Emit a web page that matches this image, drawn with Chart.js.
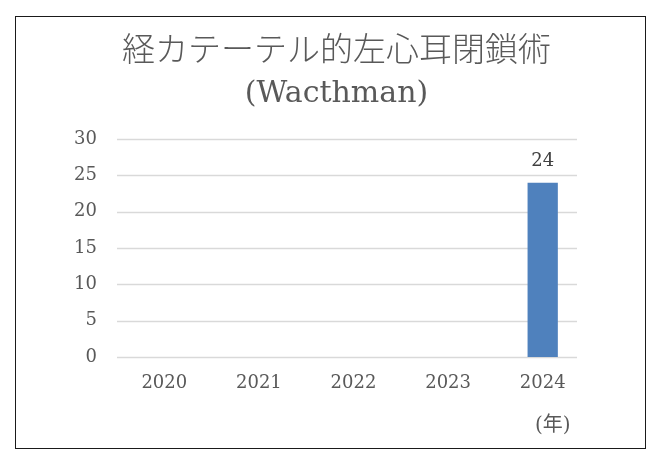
<!DOCTYPE html>
<html lang="ja">
<head>
<meta charset="utf-8">
<script src="https://cdn.jsdelivr.net/npm/chart.js@4"></script>
<style>
    html, body { margin: 0; padding: 0; background: #fff; }
    #frame {
        position: absolute;
        left: 15px;
        top: 16px;
        width: 629px;
        height: 431px;
        border: 1.5px solid #1a1a1a;
    }
</style>
</head>
<body>
<div id="frame"><canvas id="chart"></canvas></div>
<script>
const years = ["2020", "2021", "2022", "2023", "2024"];
const counts = [null, null, null, null, 24];
const yTicks = [0, 5, 10, 15, 20, 25, 30];
const titleMain = "経カテーテル的左心耳閉鎖術";
const titleSub = "(Wacthman)";
const xUnit = "(年)";

const serif = "'DejaVu Serif', 'Liberation Serif', 'Noto Sans CJK JP', serif";
const cjk = "'Noto Sans CJK JP', 'DejaVu Serif', serif";
const textColor = "#595959";

// horizontal grid lines, stopping a bit short of the right edge like the original
const gridPlugin = {
    id: "shortGrid",
    beforeDatasetsDraw(chart) {
        const { ctx, chartArea, scales } = chart;
        ctx.save();
        ctx.strokeStyle = "#d9d9d9";
        ctx.lineWidth = 1.5;
        for (const v of yTicks) {
            const y = Math.round(scales.y.getPixelForValue(v)) + 0.5;
            ctx.beginPath();
            ctx.moveTo(chartArea.left, y);
            ctx.lineTo(chartArea.right - 13, y);
            ctx.stroke();
        }
        ctx.restore();
    }
};

// value label above each bar, and the unit under the last category
const labelPlugin = {
    id: "barLabels",
    afterDatasetsDraw(chart) {
        const { ctx, scales } = chart;
        const meta = chart.getDatasetMeta(0);
        ctx.save();
        ctx.font = "18px " + serif;
        ctx.fillStyle = "#404040";
        ctx.textAlign = "center";
        ctx.textBaseline = "bottom";
        meta.data.forEach((bar, i) => {
            if (counts[i] == null) return;
            ctx.fillText(String(counts[i]), bar.x, bar.y - 12);
        });
        ctx.fillStyle = textColor;
        ctx.textBaseline = "middle";
        ctx.font = "20px " + serif;
        ctx.fillText(xUnit, scales.x.getPixelForValue(years.length - 1) + 10, scales.y.bottom + 69);
        ctx.restore();
    }
};

new Chart(document.getElementById("chart"), {
    type: "bar",
    data: {
        labels: years,
        datasets: [{
            data: counts,
            backgroundColor: "#4F81BD",
            categoryPercentage: 1,
            barPercentage: 0.32
        }]
    },
    options: {
        responsive: true,
        maintainAspectRatio: false,
        animation: false,
        layout: { padding: { top: 9, right: 0, bottom: 0, left: 12 } },
        plugins: {
            legend: { display: false },
            tooltip: { enabled: false },
            title: {
                display: true,
                text: titleMain,
                color: textColor,
                font: { family: cjk, size: 33, weight: "300", lineHeight: 1.35 },
                padding: { top: 0, bottom: 3 }
            },
            subtitle: {
                display: true,
                text: titleSub,
                color: textColor,
                font: { family: serif, size: 30, weight: "normal", lineHeight: 1.35 },
                padding: { top: 0, bottom: 25 }
            }
        },
        scales: {
            x: {
                grid: { display: false },
                border: { display: false },
                ticks: {
                    color: textColor,
                    font: { family: serif, size: 18 },
                    padding: 8
                },
                afterFit(scale) { scale.height = 91; }
            },
            y: {
                min: 0,
                max: 30,
                grid: { display: false },
                border: { display: false },
                ticks: {
                    stepSize: 5,
                    color: textColor,
                    font: { family: serif, size: 18 },
                    padding: 12
                },
                afterFit(scale) { scale.width = 89; }
            },
            // empty right-hand axis, only keeps room on the right of the plot
            yPad: {
                position: "right",
                display: true,
                grid: { display: false },
                border: { display: false },
                ticks: { display: false },
                afterFit(scale) { scale.width = 55; }
            }
        }
    },
    plugins: [gridPlugin, labelPlugin]
});
</script>
</body>
</html>
